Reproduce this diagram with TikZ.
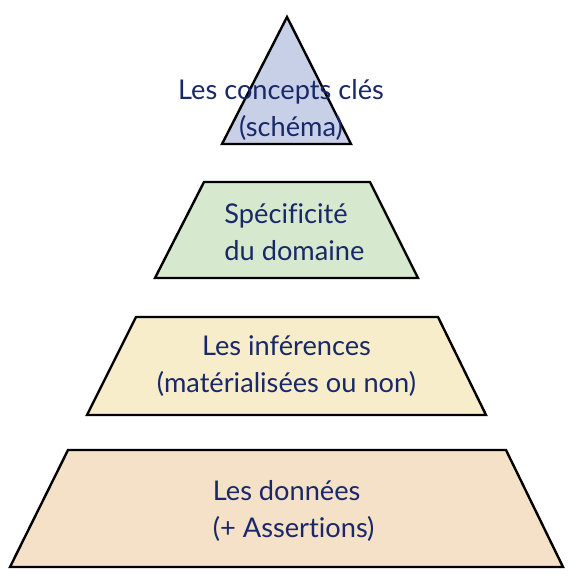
\documentclass[tikz,border=0pt]{standalone}
\usepackage{fontspec}
\setmainfont{Lato}[Ligatures=NoCommon]
\definecolor{texte}{RGB}{24,40,104}
\definecolor{violet}{RGB}{200,208,232}
\definecolor{vert}{RGB}{214,232,206}
\definecolor{jaune}{RGB}{247,237,202}
\definecolor{peche}{RGB}{245,224,200}
\begin{document}
\begin{tikzpicture}[x=0.5pt, y=-0.5pt,
  niveau/.style={draw=black, line width=1.2pt, line join=miter},
  etiquette/.style={inner sep=0pt, text=texte, font=\fontsize{13.6}{18.3}\selectfont}]
\useasboundingbox (0,0) rectangle (577,577);
\coordinate (S) at (287,17);
\coordinate (A1) at (222,144);
\coordinate (A2) at (351,144);
\coordinate (B1) at (204,182);
\coordinate (B2) at (370,182);
\coordinate (B3) at (418,278);
\coordinate (B4) at (155,278);
\coordinate (C1) at (136,317);
\coordinate (C2) at (438,317);
\coordinate (C3) at (486,415);
\coordinate (C4) at (87,415);
\coordinate (D1) at (68,450);
\coordinate (D2) at (506,450);
\coordinate (D3) at (563,567);
\coordinate (D4) at (10,567);
\draw [niveau, fill=violet] (S) -- (A2) -- (A1) -- cycle;
\draw [niveau, fill=vert] (B1) -- (B2) -- (B3) -- (B4) -- cycle;
\draw [niveau, fill=jaune] (C1) -- (C2) -- (C3) -- (C4) -- cycle;
\draw [niveau, fill=peche] (D1) -- (D2) -- (D3) -- (D4) -- cycle;
\node [etiquette, align=center] (concepts) at (281,110) {Les concepts clés\\\hspace*{10pt}(schéma)};
\node [etiquette, align=left, anchor=west] (domaine) at (224,232) {Spécificité\\du domaine};
\node [etiquette, align=center] (inferences) at (286.5,366) {Les inférences\\(matérialisées ou non)};
\node [etiquette, align=left, anchor=west] (donnees) at (212.5,511) {Les données\\(+ Assertions)};
\end{tikzpicture}
\end{document}
